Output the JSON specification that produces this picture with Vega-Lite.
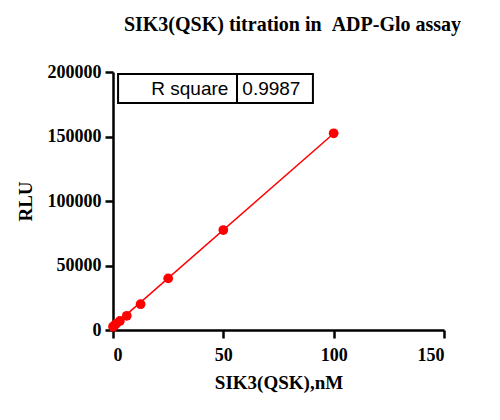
{
  "$schema": "https://vega.github.io/schema/vega-lite/v6.json",
  "autosize": "none",
  "width": 331,
  "height": 258,
  "padding": {"left": 113, "top": 72, "right": 56, "bottom": 90},
  "background": "white",
  "title": {
    "text": "SIK3(QSK) titration in\u00a0\u00a0ADP-Glo assay",
    "font": "Liberation Serif",
    "fontSize": 20,
    "fontWeight": "bold",
    "color": "black",
    "anchor": "middle",
    "frame": "group",
    "dx": 14,
    "offset": 28
  },
  "datasets": {
    "pts": [
      {"conc": 100, "rlu": 152500},
      {"conc": 50, "rlu": 77500},
      {"conc": 25, "rlu": 40000},
      {"conc": 12.5, "rlu": 20000},
      {"conc": 6.25, "rlu": 11000},
      {"conc": 3.125, "rlu": 7000},
      {"conc": 1.5625, "rlu": 5000},
      {"conc": 0.78, "rlu": 3800},
      {"conc": 0.39, "rlu": 3000},
      {"conc": 0, "rlu": 2500}
    ],
    "fit": [
      {"conc": 0, "rlu": 2800},
      {"conc": 100, "rlu": 152300}
    ],
    "box": [
      {"x1": 2.3, "x2": 56.2, "y1": 176000, "y2": 198400},
      {"x1": 56.2, "x2": 90.6, "y1": 176000, "y2": 198400}
    ],
    "txt": [
      {"x": 52.3, "y": 187200, "label": "R square", "al": "right"},
      {"x": 58.6, "y": 187200, "label": "0.9987", "al": "left"}
    ]
  },
  "layer": [
    {
      "data": {"name": "fit"},
      "mark": {"type": "line", "color": "#FF0000", "strokeWidth": 1.5},
      "encoding": {
        "x": {
          "field": "conc", "type": "quantitative",
          "scale": {"domain": [0, 150], "nice": false, "zero": false},
          "axis": {"values": [0, 50, 100, 150], "title": "SIK3(QSK),nM", "titlePadding": 9, "labelPadding": 8}
        },
        "y": {
          "field": "rlu", "type": "quantitative",
          "scale": {"domain": [0, 200000], "nice": false, "zero": false},
          "axis": {"values": [0, 50000, 100000, 150000, 200000], "format": "d", "title": "RLU", "titlePadding": 12, "labelPadding": 4}
        }
      }
    },
    {
      "data": {"name": "pts"},
      "mark": {"type": "point", "filled": true, "color": "#FF0000", "opacity": 1, "size": 95},
      "encoding": {
        "x": {"field": "conc", "type": "quantitative"},
        "y": {"field": "rlu", "type": "quantitative"}
      }
    },
    {
      "data": {"name": "box"},
      "mark": {"type": "rect", "fill": "white", "stroke": "black", "strokeWidth": 2},
      "encoding": {
        "x": {"field": "x1", "type": "quantitative"},
        "x2": {"field": "x2"},
        "y": {"field": "y1", "type": "quantitative"},
        "y2": {"field": "y2"}
      }
    },
    {
      "data": {"name": "txt"},
      "transform": [{"filter": "datum.al == 'right'"}],
      "mark": {"type": "text", "align": "right", "baseline": "middle", "font": "Liberation Sans", "fontSize": 19, "color": "black"},
      "encoding": {
        "x": {"field": "x", "type": "quantitative"},
        "y": {"field": "y", "type": "quantitative"},
        "text": {"field": "label"}
      }
    },
    {
      "data": {"name": "txt"},
      "transform": [{"filter": "datum.al == 'left'"}],
      "mark": {"type": "text", "align": "left", "baseline": "middle", "font": "Liberation Sans", "fontSize": 19, "color": "black"},
      "encoding": {
        "x": {"field": "x", "type": "quantitative"},
        "y": {"field": "y", "type": "quantitative"},
        "text": {"field": "label"}
      }
    }
  ],
  "resolve": {"scale": {"x": "shared", "y": "shared"}},
  "config": {
    "view": {"stroke": null},
    "axis": {
      "grid": false,
      "domainColor": "black",
      "domainWidth": 2.5,
      "tickColor": "black",
      "tickWidth": 2.5,
      "tickSize": 8,
      "labelFont": "Liberation Serif",
      "labelFontWeight": "bold",
      "labelFontSize": 18,
      "labelColor": "black",
      "titleFont": "Liberation Serif",
      "titleFontWeight": "bold",
      "titleFontSize": 19,
      "titleColor": "black"
    }
  }
}
